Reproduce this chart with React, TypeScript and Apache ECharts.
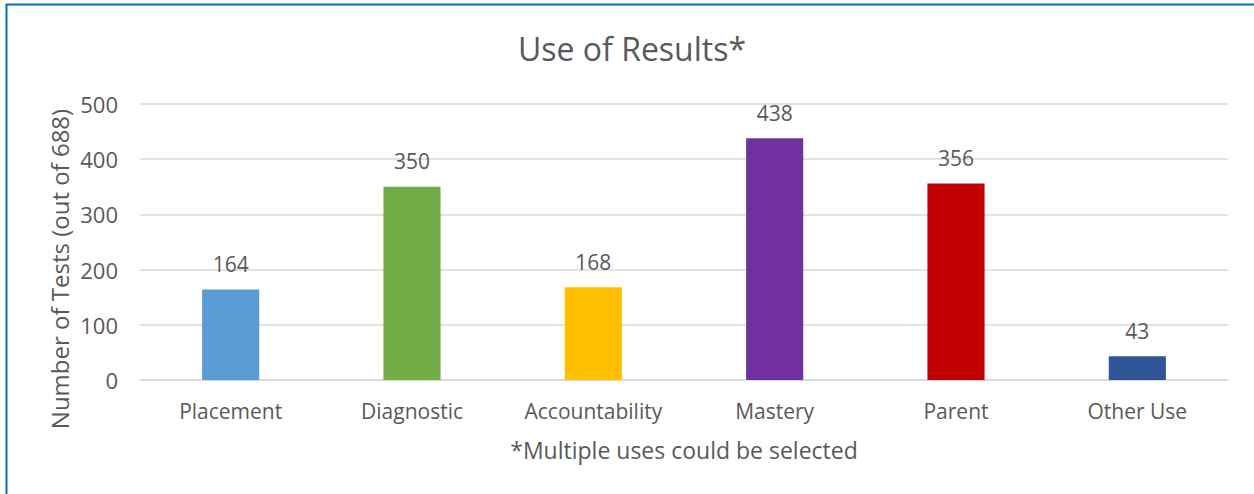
import React, { useEffect, useRef } from "react";
import * as echarts from "echarts";

const categories = ["Placement", "Diagnostic", "Accountability", "Mastery", "Parent", "Other Use"];
const values = [164, 350, 168, 438, 356, 43];
const barColors = ["#5B9BD5", "#70AD47", "#FFC000", "#7030A0", "#C00000", "#2F5597"];
const titleText = "Use of Results*";
const yAxisTitle = "Number of Tests (out of 688)";
const xAxisTitle = "*Multiple uses could be selected";

const FONT = "'Open Sans', 'Noto Sans', sans-serif";
const TXT = "#595959";

export default function App() {
  const ref = useRef<HTMLDivElement>(null);
  useEffect(() => {
    if (!ref.current) return;
    const chart = echarts.init(ref.current, null, { renderer: "svg" });
    chart.setOption({
      animation: false,
      backgroundColor: "#ffffff",
      title: {
        text: titleText,
        left: 627,
        top: 27,
        textAlign: "center",
        textStyle: { fontFamily: FONT, fontSize: 32, fontWeight: "normal", color: TXT },
      },
      grid: { left: 140, right: 26, top: 104, bottom: 114 },
      xAxis: {
        type: "category",
        data: categories,
        name: xAxisTitle,
        nameLocation: "middle",
        nameGap: 58,
        nameTextStyle: { fontFamily: FONT, fontSize: 23, color: TXT },
        axisLine: { show: true, lineStyle: { color: "#D9D9D9", width: 1.5 } },
        axisTick: { show: false },
        axisLabel: { fontFamily: FONT, fontSize: 21, color: TXT, margin: 20 },
      },
      yAxis: {
        type: "value",
        min: 0,
        max: 500,
        interval: 100,
        axisLine: { show: false },
        axisTick: { show: false },
        axisLabel: { fontFamily: FONT, fontSize: 22, color: TXT, margin: 22 },
        splitLine: { lineStyle: { color: "#D9D9D9", width: 1.5 } },
      },
      graphic: [
        {
          type: "rect",
          shape: { x: 6.5, y: 4.5, width: 1300, height: 600 },
          style: { fill: "none", stroke: "#0070C0", lineWidth: 2 },
          silent: true,
        },
        {
          type: "text",
          x: 59,
          y: 269,
          rotation: Math.PI / 2,
          style: {
            text: yAxisTitle,
            fontFamily: FONT,
            fontSize: 24,
            fill: TXT,
            align: "center",
            verticalAlign: "middle",
          },
        },
      ],
      series: [
        {
          type: "bar",
          barWidth: "31.5%",
          data: values.map((v, i) => ({ value: v, itemStyle: { color: barColors[i] } })),
          label: {
            show: true,
            position: "top",
            distance: 15,
            fontFamily: FONT,
            fontSize: 21,
            color: TXT,
          },
        },
      ],
    });
    return () => chart.dispose();
  }, []);
  return <div ref={ref} style={{ position: "absolute", left: 0, top: 0, width: 1254, height: 494 }} />;
}
